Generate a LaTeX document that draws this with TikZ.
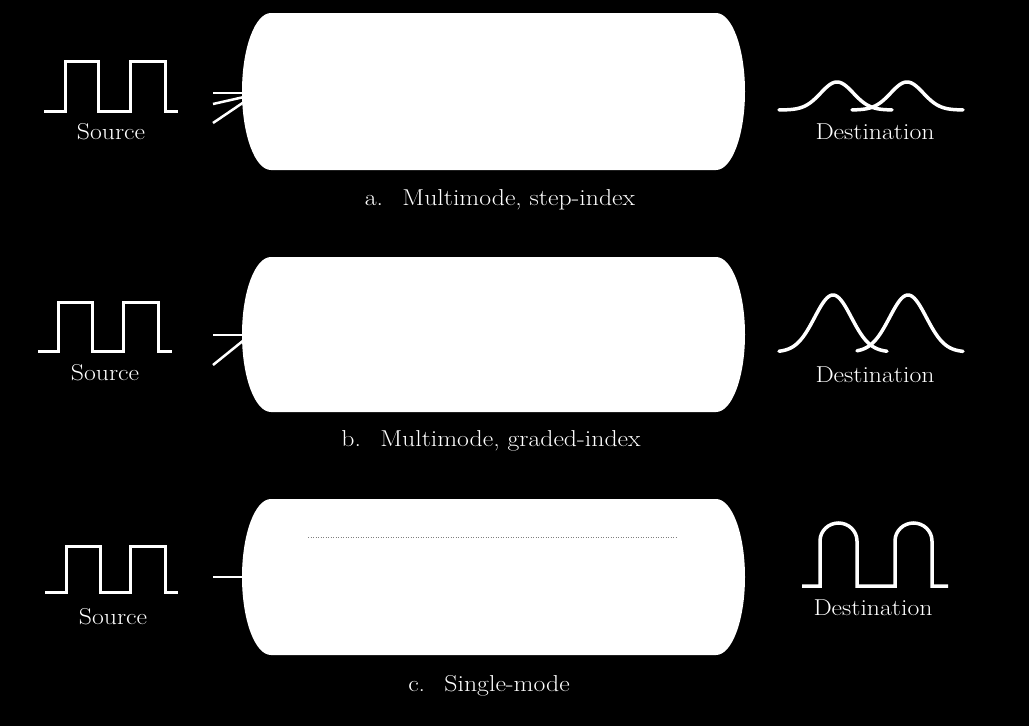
\documentclass[tikz,border=0pt]{standalone}
\usepackage{graphicx}
\begin{document}
\begin{tikzpicture}[x=1pt,y=-1pt,
  wave/.style={white,line width=3pt,line join=miter},
  pulse/.style={white,line width=3.5pt,line cap=round,line join=round},
  ray/.style={white,line width=2.5pt},
  lab/.style={text=white,font=\fontsize{23}{26}\selectfont,inner sep=0pt},
  fiberfill/.style={fill=white},
  coredot/.style={gray,line width=0.8pt,dash pattern=on 1pt off 1.5pt}]
\fill[black] (0,0) rectangle (1029,726);
\useasboundingbox (0,0) rectangle (1029,726);
\newcommand\wtxt[1]{\scalebox{1.12}[1]{#1}}

% fibers
\foreach \t/\b in {13/170, 257/412, 499/655}{
  \pgfmathsetmacro\ry{(\b-\t)/2}
  \fill[fiberfill] (271,\t) -- (716,\t)
     arc[start angle=90,end angle=-90,x radius=29pt,y radius=\ry pt]
     -- (271,\b)
     arc[start angle=270,end angle=90,x radius=29pt,y radius=\ry pt] -- cycle;
}
\coordinate (fa) at (493,91.5);
\coordinate (fb) at (493,334.5);
\coordinate (fc) at (493,577);

% core line of single-mode fiber
\coordinate (cl) at (308,537);
\coordinate (cr) at (678,537);
\draw[coredot] (cl) -- (cr);

% sources
\draw[wave] (44,111) -- (65,111) -- (65,61) -- (98,61) -- (98,111) -- (130,111) -- (130,61) -- (165,61) -- (165,111) -- (178,111);
\draw[wave] (38,351) -- (58,351) -- (58,302) -- (92,302) -- (92,351) -- (123,351) -- (123,302) -- (158,302) -- (158,351) -- (172,351);
\draw[wave] (45,592) -- (66,592) -- (66,546) -- (100,546) -- (100,592) -- (130,592) -- (130,546) -- (165,546) -- (165,592) -- (178,592);

\node[lab] (srca) at (111,132) {\wtxt{Source}};
\node[lab] (srcb) at (105,373) {\wtxt{Source}};
\node[lab] (srcc) at (113,617) {\wtxt{Source}};

% rays
\coordinate (a1s) at (213,93);  \coordinate (a1e) at (244,93);
\coordinate (a2s) at (213,104); \coordinate (a2e) at (244,97);
\coordinate (a3s) at (213,123); \coordinate (a3e) at (244,102);
\draw[ray] (a1s) -- (a1e);
\draw[ray] (a2s) -- (a2e);
\draw[ray] (a3s) -- (a3e);
\coordinate (b1s) at (213,335); \coordinate (b1e) at (244,335);
\coordinate (b2s) at (213,365); \coordinate (b2e) at (244,340);
\draw[ray] (b1s) -- (b1e);
\draw[ray] (b2s) -- (b2e);
\coordinate (c1s) at (213,577); \coordinate (c1e) at (244,577);
\draw[ray] (c1s) -- (c1e);

% destinations
\draw[pulse] plot[domain=779:892,samples=80] (\x,{110-28*exp(-((\x-837)/23)^2)});
\draw[pulse] plot[domain=852:963,samples=80] (\x,{110-28*exp(-((\x-907)/23)^2)});
\draw[pulse] plot[domain=779:887,samples=80] (\x,{352-57*exp(-((\x-833)/26)^2)});
\draw[pulse] plot[domain=857:963,samples=80] (\x,{352-57*exp(-((\x-908)/26)^2)});
\draw[pulse,line cap=butt,line join=miter] (802,586) -- (820,586) -- (820,541)
   arc[start angle=180,end angle=0,x radius=18.5pt,y radius=18pt]
   -- (857,586) -- (895,586) -- (895,541)
   arc[start angle=180,end angle=0,x radius=18.5pt,y radius=18pt]
   -- (932,586) -- (948,586);

\node[lab] (dsta) at (875,132) {\wtxt{Destination}};
\node[lab] (dstb) at (875,375) {\wtxt{Destination}};
\node[lab] (dstc) at (873,608) {\wtxt{Destination}};

% captions
\node[lab] (capa) at (500,200) {\wtxt{a.\hspace{0.75em}Multimode, step-index}};
\node[lab] (capb) at (491,441) {\wtxt{b.\hspace{0.75em}Multimode, graded-index}};
\node[lab] (capc) at (489,686) {\wtxt{c.\hspace{0.75em}Single-mode}};
\end{tikzpicture}
\end{document}
